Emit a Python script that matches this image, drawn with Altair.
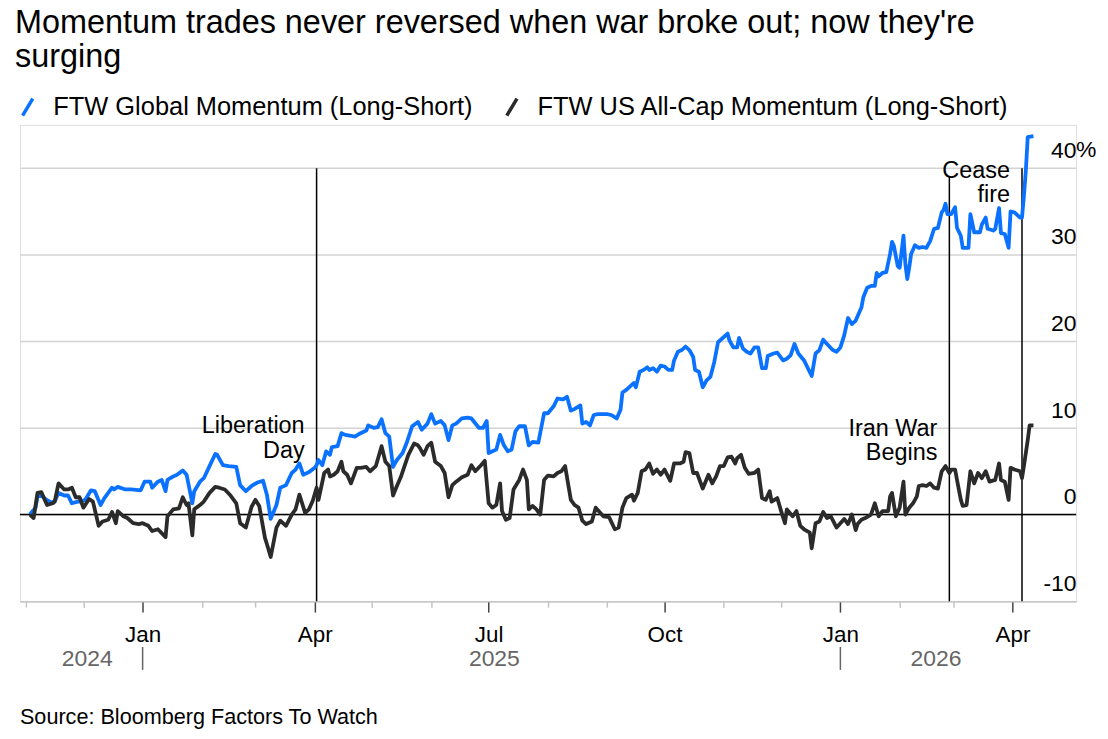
import altair as alt
import pandas as pd

FONT = "Liberation Sans"
BLUE = "#0b72ff"
BLACK = "#2b2b2b"

GLOBAL = "FTW Global Momentum (Long-Short)"
US = "FTW US All-Cap Momentum (Long-Short)"

TITLE = ["Momentum trades never reversed when war broke out; now they're",
         "surging"]
SOURCE = "Source: Bloomberg Factors To Watch"

# cumulative long-short return, %
# x values are calendar days since 2024-11-01
blue_day = [2, 5, 6, 8, 10, 13, 15, 17, 20, 22, 24, 27, 29, 31, 34, 36, 39, 41, 45, 46,
            48, 52, 55, 60, 62, 65, 66, 69, 71, 73, 74, 77, 79, 82, 84, 87, 88, 91, 93, 96,
            99, 100, 103, 106, 110, 112, 115, 118, 121, 124, 126, 128, 131, 133, 136, 139, 141, 143, 145, 148,
            151, 152, 153, 155, 157, 159, 160, 163, 165, 167, 170, 172, 175, 178, 179, 182, 184, 186, 188, 190,
            192, 194, 197, 199, 202, 205, 207, 210, 212, 214, 217, 219, 221, 223, 225, 228, 231, 233, 237, 239,
            241, 242, 244, 246, 248, 250, 252, 254, 256, 258, 261, 263, 265, 268, 271, 273, 276, 278, 281, 283,
            285, 287, 290, 291, 293, 295, 297, 299, 301, 304, 306, 309, 311, 312, 314, 316, 318, 319, 321, 323,
            325, 326, 328, 330, 332, 334, 336, 338, 339, 341, 343, 345, 347, 349, 350, 352, 354, 356, 358, 360,
            362, 364, 367, 368, 370, 372, 373, 375, 377, 379, 381, 383, 385, 387, 388, 391, 393, 396, 398, 400,
            402, 404, 407, 409, 411, 413, 415, 417, 419, 422, 424, 426, 428, 430, 432, 434, 437, 438, 440, 442,
            444, 445, 446, 448, 450, 452, 453, 454, 456, 457, 459, 460, 461, 462, 463, 465, 467, 469, 471, 473,
            475, 477, 479, 480, 481, 482, 484, 486, 487, 489, 490, 493, 494, 496, 499, 500, 502, 503, 506, 507,
            509, 510, 512, 514, 515, 517, 520, 521, 522, 523, 524, 527]
blue_pct = [0.0, 0.8, 2.1, 2.2, 1.8, 1.4, 1.5, 2.5, 2.2, 2.2, 1.3, 1.5, 1.5, 1.7, 2.8, 2.7, 1.1, 1.9, 3.1, 2.9,
            3.2, 2.9, 2.9, 2.8, 3.8, 3.8, 3.1, 3.8, 4.0, 2.7, 4.0, 4.4, 4.6, 5.1, 4.6, 1.3, 2.7, 3.8, 4.2, 5.6,
            7.0, 6.9, 5.7, 5.6, 5.5, 3.4, 2.7, 3.3, 3.7, 3.9, 2.3, -0.5, 1.1, 3.1, 3.4, 4.8, 5.2, 5.9, 4.6, 4.9,
            5.4, 5.7, 6.3, 5.7, 7.3, 6.9, 7.8, 7.9, 9.4, 9.2, 9.1, 9.0, 9.4, 9.7, 10.3, 10.0, 10.1, 11.0, 9.4, 9.0,
            5.5, 6.3, 7.1, 8.2, 10.2, 10.7, 9.8, 10.5, 11.6, 10.5, 10.8, 10.3, 8.6, 10.3, 10.5, 11.1, 11.2, 11.1, 10.0, 10.0,
            10.8, 7.1, 7.3, 7.5, 9.2, 8.0, 7.3, 7.5, 9.6, 10.2, 10.2, 8.0, 8.4, 8.3, 11.7, 11.7, 12.5, 13.4, 13.3, 13.6,
            12.0, 12.2, 12.6, 10.5, 10.7, 10.3, 11.5, 11.6, 11.6, 11.6, 11.5, 11.1, 12.1, 14.1, 14.4, 14.8, 15.2, 14.7, 16.5, 16.7,
            17.0, 16.7, 16.9, 16.5, 17.2, 17.1, 16.7, 16.7, 17.8, 18.8, 19.0, 19.4, 19.0, 18.2, 16.7, 16.5, 14.7, 15.5, 15.9, 17.6,
            19.9, 20.3, 20.9, 20.1, 19.3, 19.3, 20.4, 19.2, 18.8, 18.6, 19.3, 19.3, 16.9, 16.9, 18.3, 18.6, 18.7, 17.8, 18.0, 18.4,
            19.7, 18.6, 17.8, 16.9, 16.0, 18.6, 19.0, 20.2, 19.7, 19.0, 18.8, 19.3, 20.7, 22.7, 22.0, 22.4, 23.9, 25.1, 26.2, 26.4,
            26.4, 27.9, 27.5, 27.9, 28.0, 30.1, 31.5, 31.0, 28.7, 28.5, 32.2, 28.9, 27.2, 28.5, 30.1, 31.1, 30.8, 30.9, 30.8, 31.6,
            33.0, 33.1, 34.9, 35.2, 35.9, 34.7, 34.7, 35.5, 33.1, 32.2, 30.8, 30.8, 34.7, 32.6, 32.6, 33.5, 34.3, 33.0, 32.8, 33.0,
            35.4, 32.5, 32.4, 30.8, 35.0, 34.9, 34.3, 34.3, 36.8, 39.7, 43.6, 43.7]

black_day = [2, 4, 6, 8, 11, 14, 15, 17, 20, 22, 24, 26, 28, 30, 33, 35, 38, 40, 43, 45,
             47, 48, 51, 53, 56, 59, 61, 64, 66, 69, 73, 74, 77, 80, 82, 84, 85, 87, 88, 91,
             93, 96, 99, 101, 104, 107, 110, 112, 115, 118, 120, 122, 125, 126, 128, 131, 133, 136, 139, 141,
             143, 146, 148, 150, 152, 153, 156, 158, 159, 161, 163, 165, 166, 168, 170, 173, 175, 178, 180, 183,
             186, 188, 190, 192, 194, 196, 198, 200, 203, 205, 206, 208, 210, 212, 214, 217, 219, 221, 223, 225,
             228, 231, 233, 235, 238, 240, 242, 244, 246, 248, 249, 251, 253, 255, 258, 260, 262, 263, 265, 267,
             269, 271, 273, 276, 278, 280, 282, 285, 287, 289, 291, 293, 296, 298, 300, 302, 305, 308, 310, 312,
             314, 317, 318, 320, 322, 324, 326, 328, 330, 332, 334, 337, 339, 342, 344, 345, 347, 349, 351, 354,
             357, 359, 361, 363, 365, 367, 369, 371, 372, 374, 376, 378, 381, 383, 385, 387, 389, 390, 393, 395,
             397, 398, 401, 403, 405, 407, 410, 411, 413, 415, 417, 419, 421, 424, 426, 428, 430, 432, 434, 435,
             437, 439, 442, 444, 446, 448, 451, 452, 453, 455, 457, 459, 460, 462, 464, 466, 467, 469, 471, 473,
             475, 477, 479, 481, 483, 484, 486, 487, 489, 490, 492, 494, 496, 498, 500, 502, 504, 507, 509, 510,
             512, 514, 515, 517, 520, 521, 522, 524, 525, 527]
black_pct = [0.0, -0.4, 2.5, 2.6, 1.1, 1.3, 1.5, 3.6, 2.9, 2.9, 3.1, 2.0, 2.0, 0.8, 1.8, 1.5, -1.3, -0.8, -0.6, 0.3,
             -1.0, 0.4, -0.2, -0.4, -1.0, -1.1, -1.0, -1.3, -1.9, -1.7, -2.6, -0.2, 0.6, 0.7, 2.0, 1.1, 1.3, -2.4, 0.6, 1.1,
             1.5, 2.5, 3.2, 3.1, 2.9, 2.2, 1.3, -1.0, -1.5, 0.9, 1.7, 1.0, -2.7, -3.4, -4.9, -1.5, -0.7, -1.3, 0.0, 0.6,
             2.3, 0.2, 0.6, 1.6, 3.1, 1.7, 4.8, 5.2, 4.4, 4.6, 5.0, 6.1, 5.0, 4.6, 3.6, 5.4, 5.4, 5.5, 5.0, 5.6,
             7.9, 6.1, 5.6, 2.2, 3.3, 4.3, 5.6, 6.9, 8.2, 8.0, 7.7, 6.9, 7.9, 8.3, 6.1, 5.6, 4.8, 2.0, 3.4, 3.8,
             4.3, 4.6, 5.7, 5.0, 5.7, 6.2, 1.3, 0.8, 1.1, 3.6, 0.4, -0.6, -0.4, 2.9, 4.0, 5.2, 4.0, 0.6, 1.0, 0.6,
             0.0, 4.0, 4.5, 4.4, 4.8, 5.0, 5.6, 1.7, 1.1, 0.8, -0.7, -1.1, -0.8, 0.8, 0.3, -0.2, -0.3, -1.7, -1.5, 0.8,
             1.9, 2.3, 1.6, 2.5, 5.0, 5.2, 5.9, 4.7, 5.2, 4.6, 5.2, 3.9, 5.9, 5.9, 6.1, 7.2, 7.1, 4.8, 4.8, 3.0,
             4.6, 3.6, 4.4, 5.6, 5.6, 6.6, 6.7, 5.9, 6.5, 6.9, 5.4, 4.7, 4.8, 5.2, 1.9, 1.7, 2.7, 1.5, 1.9, 0.4,
             -1.0, 0.6, -0.2, 0.4, -1.3, -1.7, -2.1, -3.9, -1.0, -0.8, 0.3, -0.4, -0.2, -1.5, -1.0, -0.5, -1.1, 0.0, -1.8, -1.1,
             -0.6, -0.4, 0.0, 1.3, -0.2, 0.4, 0.4, 2.1, 2.5, -0.2, 0.8, 3.8, 0.0, 0.8, 1.3, 2.1, 3.3, 3.4, 3.3, 3.6,
             3.1, 3.0, 5.0, 5.6, 4.8, 5.2, 5.2, 4.0, 1.7, 1.0, 1.1, 5.0, 3.6, 4.8, 4.2, 5.0, 3.8, 4.0, 5.9, 4.0,
             3.8, 1.7, 5.4, 5.2, 5.0, 4.2, 5.6, 8.6, 10.3, 10.3]

event_date = ["2025-04-02", "2026-02-27", "2026-04-06"]
event_text = ["Liberation\nDay", "Iran War\nBegins", "Cease\nfire"]
event_text_y = [9.4, 9.1, 38.9]
event_top = [40, 39, 40]

year_date = ["2024-12-03", "2025-07-04", "2026-02-20"]
year_text = ["2024", "2025", "2026"]
year_sep = ["2025-01-01", "2026-01-01"]

y_ticks = [-10, 0, 10, 20, 30, 40]
tick_months = [(2024, 11), (2024, 12)] + [(2025, m) for m in range(1, 13)] + [(2026, m) for m in range(1, 5)]

assert len(blue_day) == len(blue_pct) and len(black_day) == len(black_pct)

start = pd.Timestamp("2024-11-01")
lines = pd.concat([
    pd.DataFrame({"date": start + pd.to_timedelta(blue_day, unit="D"), "pct": blue_pct, "series": GLOBAL}),
    pd.DataFrame({"date": start + pd.to_timedelta(black_day, unit="D"), "pct": black_pct, "series": US}),
])
events = pd.DataFrame({"date": pd.to_datetime(event_date), "text": event_text,
                       "text_y": event_text_y, "top": event_top, "bottom": -10})
years = pd.DataFrame({"date": pd.to_datetime(year_date), "text": year_text})
seps = pd.DataFrame({"date": pd.to_datetime(year_sep)})

x_scale = alt.Scale(domain=[alt.DateTime(year=2024, month=10, date=28, hours=20),
                            alt.DateTime(year=2026, month=5, date=4, hours=7)])
y_scale = alt.Scale(domain=[-10, 45], nice=False, zero=False)

major = "month(datum.value) % 3 == 0"
x_axis = alt.Axis(
    values=[alt.DateTime(year=y, month=m, date=1) for y, m in tick_months],
    labelExpr=f"{major} ? timeFormat(datum.value, '%b') : ''",
    tickSize={"condition": {"test": major, "value": 11}, "value": 6},
    tickColor={"condition": {"test": major, "value": "#444444"}, "value": "#c4c4c4"},
    tickWidth=1.5, domainColor="#c8c8c8", domainWidth=1.5, grid=False,
    labelFontSize=22.5, labelColor="black", labelBaseline="alphabetic", labelPadding=29,
    labelFlush=False, labelOverlap=False, title=None,
)
y_axis = alt.Axis(
    orient="right", values=y_ticks, labelAlign="right", labelBaseline="alphabetic",
    labelExpr="datum.value < 0 ? '-' + abs(datum.value) : '' + datum.value",
    labelOffset=-11, labelPadding=0, ticks=False, tickSize=0, domain=False,
    gridColor="#d3d3d3", gridWidth=1.5, labelFontSize=23, labelColor="black",
    labelFlush=False, title=None,
)
X = alt.X("date:T", scale=x_scale, axis=x_axis, title=None)

legend = alt.Legend(
    title=None, orient="none", legendX=-5, legendY=-31, direction="horizontal",
    symbolType="M-0.6,1L0.6,-1", symbolSize=289, symbolStrokeWidth=3.5,
    labelFontSize=25.5, labelFont=FONT, labelColor="black", labelOffset=13,
    columnPadding=26, padding=0, labelLimit=800,
)

zero = alt.Chart(pd.DataFrame({"v": [0]})).mark_rule(color="black", strokeWidth=1.5).encode(
    y=alt.Y("v:Q", scale=y_scale, axis=y_axis, title=None)
)
event_rules = alt.Chart(events).mark_rule(color="black", strokeWidth=1.5).encode(
    x=X, y=alt.Y("top:Q", scale=y_scale, axis=y_axis, title=None), y2="bottom:Q"
)
line_chart = alt.Chart(lines).mark_line(strokeWidth=3.8, strokeJoin="round").encode(
    x=X,
    y=alt.Y("pct:Q", scale=y_scale, axis=y_axis, title=None),
    color=alt.Color("series:N", scale=alt.Scale(domain=[GLOBAL, US], range=[BLUE, BLACK]), legend=legend),
)
event_labels = alt.Chart(events).mark_text(
    align="right", baseline="alphabetic", dx=-12, fontSize=23.5, lineBreak="\n",
    lineHeight=24.5, font=FONT, color="black",
).encode(x=X, y=alt.Y("text_y:Q", scale=y_scale, axis=y_axis, title=None), text="text:N")
year_labels = alt.Chart(years).mark_text(
    baseline="alphabetic", fontSize=23, font=FONT, color="#666666"
).encode(x=X, y=alt.value(543), text="text:N")
year_seps = alt.Chart(seps).mark_rule(color="#666666", strokeWidth=1.5).encode(
    x=X, y=alt.value(524), y2=alt.value(547)
)
pct_sign = alt.Chart(pd.DataFrame({"v": [40], "t": ["%"]})).mark_text(
    align="left", baseline="alphabetic", dy=-11, fontSize=23, font=FONT, color="black"
).encode(x=alt.value(1060), y=alt.Y("v:Q", scale=y_scale, axis=y_axis, title=None), text="t:N")
source = alt.Chart(pd.DataFrame({"t": [SOURCE]})).mark_text(
    align="left", baseline="alphabetic", fontSize=21.7, font=FONT, color="black"
).encode(x=alt.value(0), y=alt.value(601), text="t:N")

chart = alt.layer(
    zero, event_rules, line_chart, event_labels, year_labels, year_seps, pct_sign, source
).properties(
    width=1060,
    height=478,
    autosize=alt.AutoSizeParams(type="none"),
    padding={"left": 12, "top": 116, "right": 24, "bottom": 128},
    title=alt.Title(TITLE, anchor="start", fontSize=32.5, fontWeight="normal", font=FONT,
                    color="black", lineHeight=33.5, offset=21),
).configure_view(stroke=None).configure(font=FONT, background="white")

chart.save("out.html", embed_options={"renderer": "svg", "actions": False})
